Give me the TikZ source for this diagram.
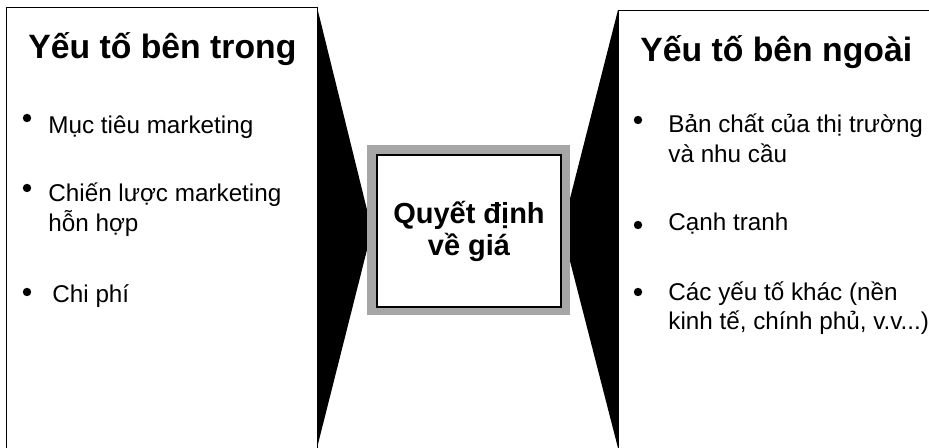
\documentclass[tikz,border=0pt]{standalone}
\usepackage{fontspec}
\setmainfont{Liberation Sans}
\begin{document}
\begin{tikzpicture}[thick,
		title node/.style={anchor=base west,inner sep=0pt,font=\bfseries\fontsize{32}{38}\selectfont},
		item node/.style={anchor=base west,inner sep=0pt,align=left,font=\fontsize{23}{28.45}\selectfont},
		dot node/.style={circle,fill=black,inner sep=0pt,minimum size=0.28cm},
		frame node/.style={fill=black!35,minimum width=6.77cm,minimum height=5.67cm},
		main node/.style={draw,very thick,fill=white,minimum width=6.13cm,minimum height=5.07cm,align=center,font=\bfseries\fontsize{27.5}{30.4}\selectfont}]
			\useasboundingbox (0, 0) rectangle (30.967, 14.933);

			\draw[thin] (0.2, 0) -- (0.2, 14.7) -- (10.567, 14.7) -- (10.567, 0);
			\draw[thin] (20.6, 0) -- (20.6, 14.6) -- (30.967, 14.6);
			\fill (10.567, 14.7) -- (12.4, 7.267) -- (10.567, 0) -- cycle;
			\fill (20.6, 14.6) -- (18.733, 7.267) -- (20.6, 0) -- cycle;

			\node[frame node] at (15.617, 7.267) (frame) {};
			\node[main node] at (15.633, 7.233) (price) {Quyết định\\về giá};

			% base of a two-line node is its last line
			\node[title node] at (0.933, 12.967) (inner) {Yếu tố bên trong};
			\node[dot node] at (0.9, 11.0) (d1) {};
			\node[item node] at (1.6, 10.467) (goal) {Mục tiêu marketing};
			\node[dot node] at (0.9, 8.667) (d2) {};
			\node[item node] at (1.6, 7.2) (mix) {Chiến lược marketing\\hỗn hợp};
			\node[dot node] at (0.9, 5.2) (d3) {};
			\node[item node] at (1.733, 4.833) (cost) {Chi phí};

			\node[title node] at (21.333, 12.867) (outer) {Yếu tố bên ngoài};
			\node[dot node] at (21.267, 10.933) (d4) {};
			\node[item node] at (22.267, 9.5) (market) {Bản chất của thị trường\\và nhu cầu};
			\node[dot node] at (21.267, 7.433) (d5) {};
			\node[item node] at (22.267, 7.233) (rival) {Cạnh tranh};
			\node[dot node] at (21.267, 5.2) (d6) {};
			\node[item node] at (22.267, 3.933) (other) {Các yếu tố khác (nền\\kinh tế, chính phủ, v.v...)};
		\end{tikzpicture}
\end{document}
